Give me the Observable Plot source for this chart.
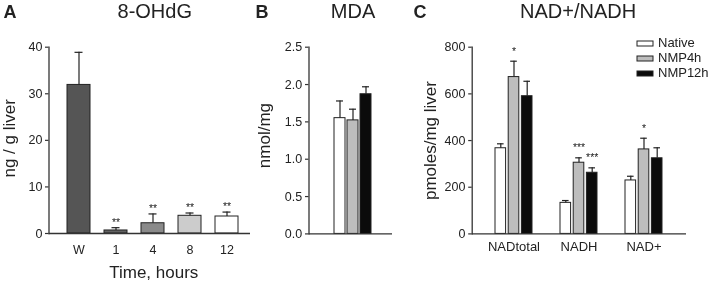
<!DOCTYPE html>
<html><head><meta charset="utf-8">
<script src="https://cdn.jsdelivr.net/npm/d3@7"></script>
<script src="https://cdn.jsdelivr.net/npm/@observablehq/plot@0.6"></script>
<style>
html,body{margin:0;padding:0;background:#fff;}
#wrap{position:relative;width:710px;height:282px;overflow:hidden;font-family:"Liberation Sans",Arial,sans-serif;}
#wrap svg.plt{position:absolute;left:0;top:0;background:transparent;max-width:none;will-change:transform;}
#legend{position:absolute;left:637px;top:34.5px;width:73px;}
#legend .lg-swatch{height:15px;line-height:15px;padding-bottom:0;}
#legend .lg-swatch svg{margin-right:5px;overflow:visible;position:relative;top:1.5px;}
#legend .lg-swatch svg rect{stroke:#222;stroke-width:1;}
#legend .lg-swatch-label{overflow:visible;}
</style></head>
<body><div id="wrap"></div>
<script>
// ---------- data ----------
// Panel A: 8-OHdG
const timeCats = ["W", "1", "4", "8", "12"];
const ohdgMean = [31.9, 0.65, 2.2, 3.8, 3.65];
const ohdgErr  = [7.0, 0.6, 2.0, 0.6, 0.95];
const ohdgStars = ["", "**", "**", "**", "**"];
const ohdgTicks = [0, 10, 20, 30, 40];
const timePalette = ["#555555", "#626262", "#8a8a8a", "#cccccc", "#ffffff"];

// Series (B and C)
const series = ["Native", "NMP4h", "NMP12h"];
const seriesPalette = ["#ffffff", "#bdbdbd", "#0b0b0b"];

// Panel B: MDA
const mdaMean = [1.55, 1.52, 1.87];
const mdaErr  = [0.23, 0.15, 0.10];
const mdaTicks = [0, 0.5, 1.0, 1.5, 2.0, 2.5];

// Panel C: NAD+/NADH
const nadGroups = ["NADtotal", "NADH", "NAD+"];
const nadNative = [367, 133, 229];
const nadNative_err = [19, 10, 18];
const nadNMP4h = [672, 305, 362];
const nadNMP4h_err = [68, 21, 48];
const nadNMP12h = [590, 262, 324];
const nadNMP12h_err = [64, 21, 45];
const nadStars = {Native: ["", "", ""], NMP4h: ["*", "***", "*"], NMP12h: ["", "***", ""]};
const nadTicks = [0, 200, 400, 600, 800];

// ---------- helpers ----------
const FONT = '"Liberation Sans", Arial, Helvetica, sans-serif';
const INK = "#222";
const AX = "#333";
const W = 710, H = 282;
const wrap = document.getElementById("wrap");
function place(svg) { svg.classList.add("plt"); wrap.appendChild(svg); }
const baseStyle = {fontFamily: FONT, fontSize: "12.5px", color: INK, background: "transparent"};

// ---------- Panel A ----------
const tableA = timeCats.map((t, i) => ({t, v: ohdgMean[i], e: ohdgErr[i], s: ohdgStars[i]}));
const aL = 48.5, aR = 250, aT = 46.7, aB = 233;
place(Plot.plot({
  width: W, height: H,
  marginLeft: aL, marginRight: W - aR, marginTop: aT, marginBottom: H - aB,
  style: baseStyle,
  x: {domain: timeCats, range: [52.4, 252.2], padding: 0.385},
  y: {domain: [0, 40]},
  color: {domain: timeCats, range: timePalette},
  marks: [
    Plot.barY(tableA, {x: "t", y: "v", fill: "t", stroke: INK, strokeWidth: 1}),
    Plot.ruleX(tableA, {x: "t", y1: "v", y2: d => d.v + d.e, stroke: INK, strokeWidth: 1.2}),
    Plot.tickY(tableA, {x: "t", y: d => d.v + d.e, stroke: INK, strokeWidth: 1.2, insetLeft: 7.5, insetRight: 7.5}),
    Plot.text(tableA, {x: "t", y: d => d.v + d.e, text: "s", lineAnchor: "bottom", dy: -2, fontSize: 10.5, fill: INK}),
    Plot.axisY({ticks: ohdgTicks, tickSize: 3.5, tickPadding: 3, stroke: AX, strokeWidth: 1.2, fill: INK, label: null}),
    Plot.axisX({tickSize: 0, tickPadding: 12, fill: INK, fontSize: 12.5, label: null}),
    Plot.ruleY([0], {stroke: AX, strokeWidth: 1.3}),
    Plot.frame({anchor: "left", stroke: AX, strokeWidth: 1.3}),
    Plot.text(["A"], {frameAnchor: "top-left", textAnchor: "start", lineAnchor: "bottom", dx: 3 - aL, dy: 17.3 - aT, fontSize: 18, fontWeight: "bold", fill: INK}),
    Plot.text(["8-OHdG"], {frameAnchor: "top", lineAnchor: "bottom", dx: 5, dy: 17.3 - aT, fontSize: 20, fill: INK}),
    Plot.text(["ng / g liver"], {frameAnchor: "left", rotate: -90, textAnchor: "middle", lineAnchor: "bottom", dx: 14 - aL, dy: -2, fontSize: 17, fill: INK}),
    Plot.text(["Time, hours"], {frameAnchor: "bottom", lineAnchor: "bottom", dx: 4, dy: 277.3 - aB, fontSize: 17, fill: INK})
  ]
}));

// ---------- Panel B ----------
const tableB = series.map((s, i) => ({s, v: mdaMean[i], e: mdaErr[i]}));
const bL = 308.5, bR = 392, bT = 46.7, bB = 233.4;
place(Plot.plot({
  width: W, height: H,
  marginLeft: bL, marginRight: W - bR, marginTop: bT, marginBottom: H - bB,
  style: baseStyle,
  x: {domain: series, range: [333, 372.5], paddingInner: 0.14, paddingOuter: 0, axis: null},
  y: {domain: [0, 2.5]},
  color: {domain: series, range: seriesPalette},
  marks: [
    Plot.barY(tableB, {x: "s", y: "v", fill: "s", stroke: INK, strokeWidth: 1}),
    Plot.ruleX(tableB, {x: "s", y1: "v", y2: d => d.v + d.e, stroke: INK, strokeWidth: 1.2}),
    Plot.tickY(tableB, {x: "s", y: d => d.v + d.e, stroke: INK, strokeWidth: 1.2, insetLeft: 2, insetRight: 2}),
    Plot.axisY({ticks: mdaTicks, tickFormat: ".1f", tickSize: 3.5, tickPadding: 3.3, stroke: AX, strokeWidth: 1.2, fill: INK, label: null}),
    Plot.ruleY([0], {stroke: AX, strokeWidth: 1.3}),
    Plot.frame({anchor: "left", stroke: AX, strokeWidth: 1.3}),
    Plot.text(["B"], {frameAnchor: "top-left", textAnchor: "start", lineAnchor: "bottom", dx: 255 - bL, dy: 17.3 - bT, fontSize: 18, fontWeight: "bold", fill: INK}),
    Plot.text(["MDA"], {frameAnchor: "top", lineAnchor: "bottom", dx: 2.3, dy: 17.3 - bT, fontSize: 20, fill: INK}),
    Plot.text(["nmol/mg"], {frameAnchor: "left", rotate: -90, textAnchor: "middle", lineAnchor: "bottom", dx: 269 - bL, dy: -5, fontSize: 17, fill: INK})
  ]
}));

// ---------- Panel C ----------
const nadMeans = {Native: nadNative, NMP4h: nadNMP4h, NMP12h: nadNMP12h};
const nadErrs = {Native: nadNative_err, NMP4h: nadNMP4h_err, NMP12h: nadNMP12h_err};
const tableC = [];
nadGroups.forEach((g, gi) => series.forEach((s, si) =>
  tableC.push({g, s, si, v: nadMeans[s][gi], e: nadErrs[s][gi], star: nadStars[s][gi]})));
const cL = 471.7, cR = 686, cT = 46.7, cB = 233.4;
const slot = 13.2; // offset between neighbouring bars inside a group
const barMarks = series.flatMap((s, si) => {
  const rows = tableC.filter(d => d.si === si);
  const off = (si - 1) * slot;
  return [
    Plot.barY(rows, {x: "g", y: "v", fill: "s", stroke: INK, strokeWidth: 1, insetLeft: si * slot, insetRight: (2 - si) * slot}),
    Plot.ruleX(rows, {x: "g", y1: "v", y2: d => d.v + d.e, dx: off, stroke: INK, strokeWidth: 1.2}),
    Plot.tickY(rows, {x: "g", y: d => d.v + d.e, stroke: INK, strokeWidth: 1.2, insetLeft: si * slot + 2, insetRight: (2 - si) * slot + 2}),
    Plot.text(rows, {x: "g", y: d => d.v + d.e, text: "star", dx: off, dy: -6.5, lineAnchor: "bottom", fontSize: 10.5, fill: INK})
  ];
});
place(Plot.plot({
  width: W, height: H,
  marginLeft: cL, marginRight: W - cR, marginTop: cT, marginBottom: H - cB,
  style: baseStyle,
  x: {domain: nadGroups, range: [466.3, 690.2], padding: 0.424},
  y: {domain: [0, 800]},
  color: {domain: series, range: seriesPalette},
  marks: [
    ...barMarks,
    Plot.axisY({ticks: nadTicks, tickSize: 3.5, tickPadding: 3.3, stroke: AX, strokeWidth: 1.2, fill: INK, label: null}),
    Plot.axisX({tickSize: 0, tickPadding: 7.8, fill: INK, fontSize: 13, label: null}),
    Plot.ruleY([0], {stroke: AX, strokeWidth: 1.3}),
    Plot.frame({anchor: "left", stroke: AX, strokeWidth: 1.3}),
    Plot.text(["C"], {frameAnchor: "top-left", textAnchor: "start", lineAnchor: "bottom", dx: 413 - cL, dy: 17.3 - cT, fontSize: 18, fontWeight: "bold", fill: INK}),
    Plot.text(["NAD+/NADH"], {frameAnchor: "top", lineAnchor: "bottom", dx: -1.3, dy: 17.3 - cT, fontSize: 20, fill: INK}),
    Plot.text(["pmoles/mg liver"], {frameAnchor: "left", rotate: -90, textAnchor: "middle", lineAnchor: "bottom", dx: 435 - cL, dy: 0, fontSize: 17, fill: INK})
  ]
}));

// ---------- Legend ----------
const leg = Plot.legend({
  color: {type: "ordinal", domain: series, range: seriesPalette},
  columns: 1, swatchWidth: 16, swatchHeight: 5, className: "lg",
  style: {fontFamily: FONT, fontSize: "13px", color: INK}
});
leg.id = "legend";
wrap.appendChild(leg);
</script>
</body></html>
